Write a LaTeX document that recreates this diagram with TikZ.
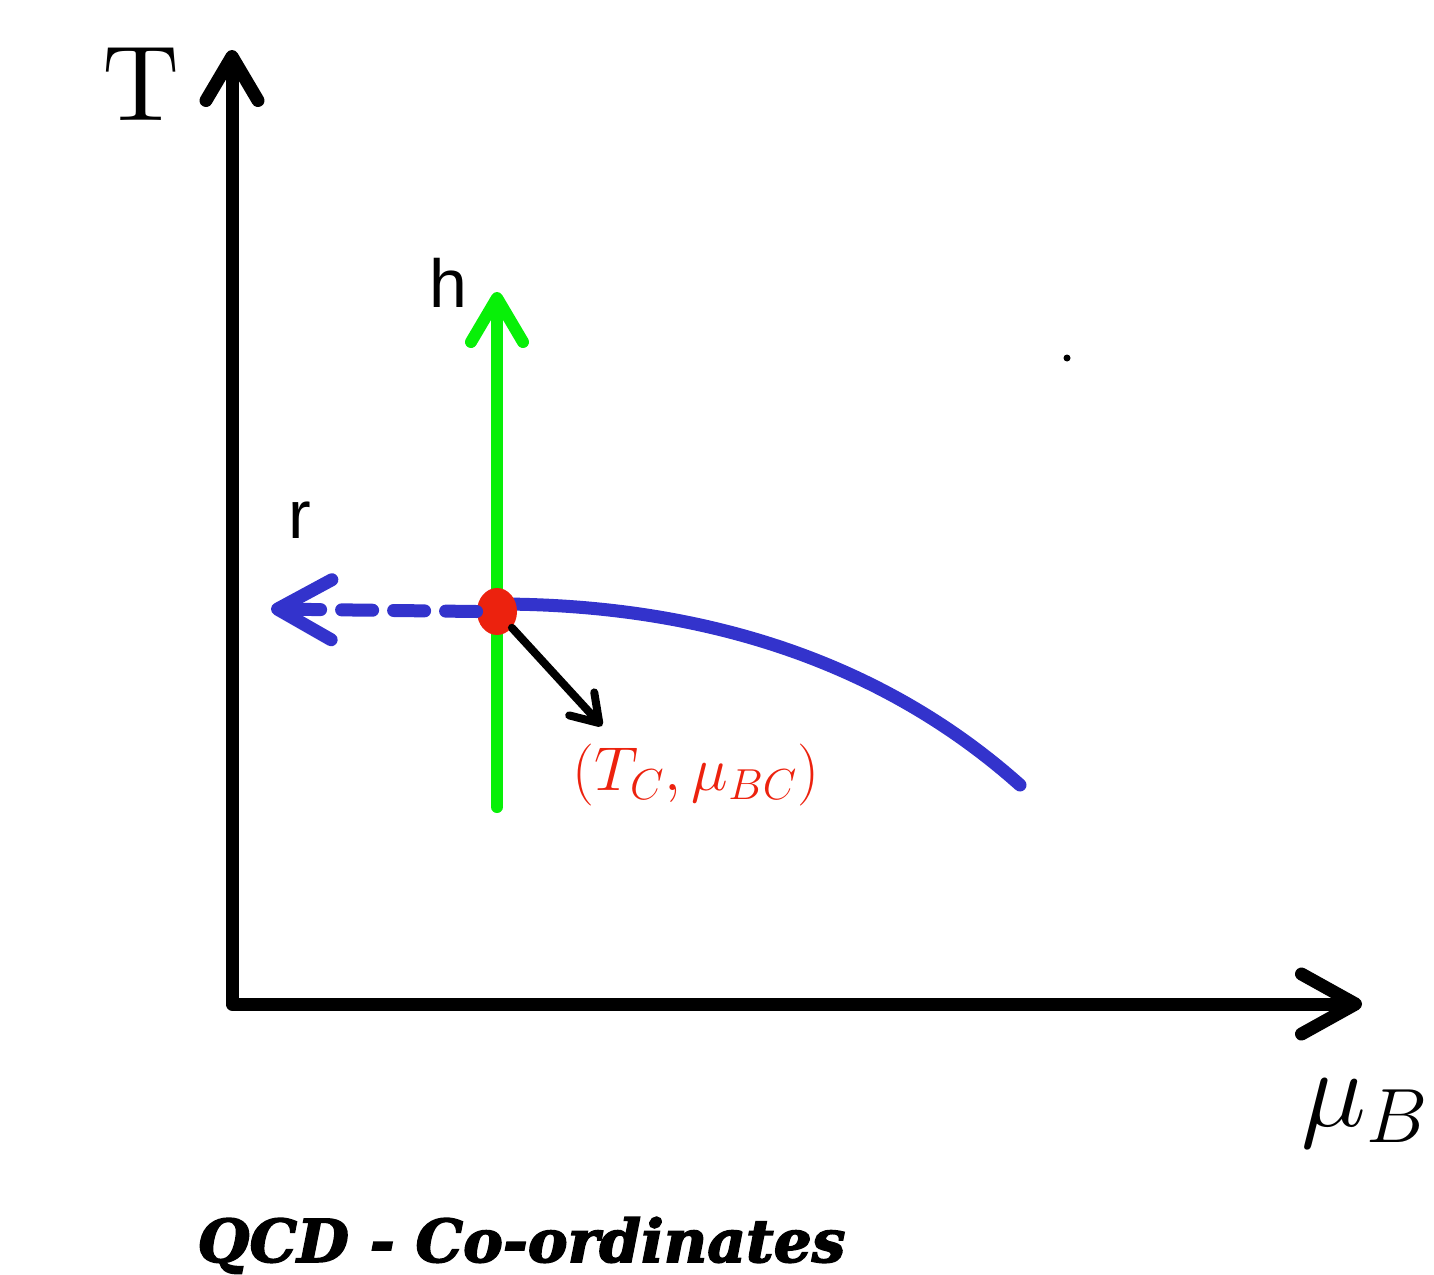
\documentclass[tikz,border=0pt]{standalone}
\usepackage{fix-cm}
\usepackage{fontspec}
\usetikzlibrary{arrows.meta,shapes.geometric}
\newfontfamily\labelsans{Liberation Sans}
\newfontfamily\titlefont{DejaVu Serif}[BoldItalicFeatures={FakeBold=2.5}]
\newfontfamily\lmten{lmroman10-regular}[Extension=.otf]
\definecolor{qgreen}{RGB}{8,240,8}
\definecolor{qblue}{RGB}{51,51,204}
\definecolor{qred}{RGB}{236,34,14}
\begin{document}
\begin{tikzpicture}[x=0.5pt,y=-0.5pt,
  axis/.style={line width=6.5pt, line join=round, line cap=round},
  lab/.style={inner sep=0pt, anchor=base},
  thickblue/.style={qblue, line width=6.5pt, line cap=round},
  greenline/.style={qgreen, line width=6pt, line cap=round},
  blackline/.style={black, line width=4pt, line cap=round}]
\useasboundingbox (0,0) rectangle (1434,1274);
% coordinates
\coordinate (ytip) at (232,50);
\coordinate (O) at (232,1004);
\coordinate (xtip) at (1362,1004);
\coordinate (gbot) at (497,807);
\coordinate (gtop) at (497,292);
\coordinate (rtip) at (271,609);
\coordinate (cstart) at (497,604);
\coordinate (cend) at (1020,785);
\coordinate (btip) at (602,726);
% axes
\draw[axis, {Straight Barb[round,length=22pt,width=26pt]}-{Straight Barb[round,length=27pt,width=30pt]}] (ytip) -- (O) -- (xtip);
% labels
\node[lab] (Tlab) at (141,120) {\lmten\fontsize{53.5}{60}\selectfont T};
\node[lab] (hlab) at (448,307) {\labelsans\fontsize{34}{40}\selectfont h};
\node[lab] (rlab) at (300,538) {\labelsans\fontsize{34}{40}\selectfont r};
\node[lab, anchor=base west] (mulab) at (1301,1126) {\fontsize{55}{62}\selectfont $\mu_B$};
\node[lab, text=qred] (crit) at (696,790) {\fontsize{31}{37}\selectfont $(T_C,\mu_{BC})$};
\node[lab, anchor=base west] (title) at (197,1262) {\raisebox{0pt}[\height][0pt]{\resizebox{324pt}{22.5pt}{\titlefont\bfseries\itshape QCD - Co-ordinates}}};
\node[circle, fill=black, inner sep=0pt, minimum size=3.5pt] (speck) at (1067,358) {};
% green h-arrow
\draw[greenline, -{Straight Barb[round,length=22pt,width=26pt]}] (gbot) -- (gtop);
% blue curve
\draw[thickblue] (cstart) .. controls (700,604) and (880,660) .. (cend);
% critical point
\node[ellipse, fill=qred, inner sep=0pt, minimum width=20pt, minimum height=23.5pt] (dot) at (497,611.5) {};
% dashed r-arrow
\draw[thickblue, dash pattern=on 15.5pt off 10.5pt, -{Straight Barb[round,length=27pt,width=30pt]}] (dot.west) -- (rtip);
% black arrow
\draw[blackline, -{Straight Barb[round,length=13pt,width=17pt]}] (dot) -- (btip);
\end{tikzpicture}
\end{document}
